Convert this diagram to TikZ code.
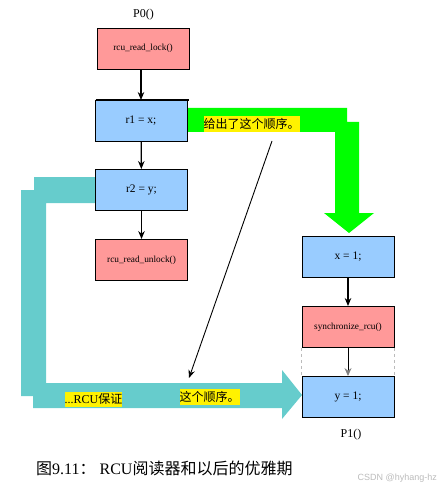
\documentclass[tikz,border=0pt]{standalone}
\usepackage{fontspec}
\setmainfont{Liberation Serif}
\newfontfamily\cjk{Noto Sans CJK SC}
\newfontfamily\marksans{Liberation Sans}
\usetikzlibrary{arrows.meta,backgrounds}
\definecolor{readpink}{HTML}{FF9999}
\definecolor{stmtblue}{HTML}{99CCFF}
\definecolor{bandgreen}{HTML}{00FF00}
\definecolor{bandcyan}{HTML}{66CCCC}
\definecolor{notegray}{HTML}{BBBBBB}
\tikzset{>={Stealth[length=8pt,width=6.5pt]},
  every node/.style={inner sep=0pt},
  stmt/.style={draw=black,line width=.9pt,fill=stmtblue,minimum width=92pt,minimum height=41pt,
    font=\fontsize{11.5}{13}\selectfont},
  rcucall/.style={stmt,fill=readpink,font=\fontsize{9.3}{11}\selectfont},
  flow/.style={->,line width=1.2pt},
  note/.style={fill=yellow,inner ysep=2pt,font=\fontsize{12}{14}\selectfont},
  procname/.style={font=\fontsize{12}{14}\selectfont}}

\begin{document}
\begin{tikzpicture}[x=1pt,y=-1pt]
\useasboundingbox (0,0) rectangle (443,489);
% Reader P0: critical section between lock and unlock.
\node[procname] (p0) at (143.5,15) {P0()};
\node[rcucall] (lock) at (143,48.5) {rcu\_read\_lock()};
\node[stmt] (r1) at (141,121) {r1 = x;};\node[stmt] (r2) at (141.5,190) {r2 = y;};
\node[rcucall] (unlock) at (141.5,260) {rcu\_read\_unlock()};
\draw[line width=2pt] ([xshift=1pt]r1.north west) -- ([xshift=2pt]r1.north east);
\draw[flow] (r1.north |- lock.south) -- (r1.north);\draw[flow] (r1) -- (r2);\draw[flow] (r2) -- (unlock);
% Updater P1: synchronize_rcu() separates the two stores.
\node[stmt] (x1) at (348,257) {x = 1;};\node[rcucall] (sync) at (348,327) {synchronize\_rcu()};
\node[stmt] (y1) at (348,397) {y = 1;};\node[procname] (p1) at (351,435) {P1()};
\draw[flow] (x1) -- (sync);
\draw[line width=1pt,-{Stealth[length=8pt,width=7pt,color=gray]}] (sync) -- (y1);
\draw[dashed,draw=notegray,line width=.5pt] (sync.south west) -- (y1.north west) (sync.south east) -- (y1.north east);
% Wide bent arrows behind the boxes.
\begin{scope}[on background layer]
\fill[bandgreen] (141,108) -- (347,108) -- (347,122) -- (359,122) -- (359,213) -- (374,213) -- (349,233)
  -- (324,213) -- (335,213) -- (335,132) -- (141,132) -- cycle;
\fill[bandcyan] (141,177) -- (34,177) -- (34,190) -- (21,190) -- (21,396) -- (33,396) -- (33,408) -- (282,408)
  -- (282,419) -- (302,395) -- (282,370) -- (282,383) -- (46,383) -- (46,203) -- (141,203) -- cycle;
\end{scope}
\node[note] (gives) at (251.5,124) {\cjk 给出了这个顺序。};
\node[note] (guar) at (93.5,399) {...RCU{\cjk 保证}};\node[note] (order) at (209.5,397) {\cjk 这个顺序。};
\coordinate (from) at (272,141);\coordinate (to) at (189,378);
\draw[->,line width=.9pt] (from) -- (to);
% Caption and watermark.
\node[anchor=west,font=\fontsize{16}{18}\selectfont] (cap) at (36,468) {{\cjk 图}9.11{\cjk ：}\hspace{4pt}RCU{\cjk 阅读器和以后的优雅期}};
\node[anchor=east,text=notegray,font=\marksans\fontsize{9}{10}\selectfont] (mark) at (437,478) {CSDN @hyhang-hz};
\end{tikzpicture}
\end{document}
